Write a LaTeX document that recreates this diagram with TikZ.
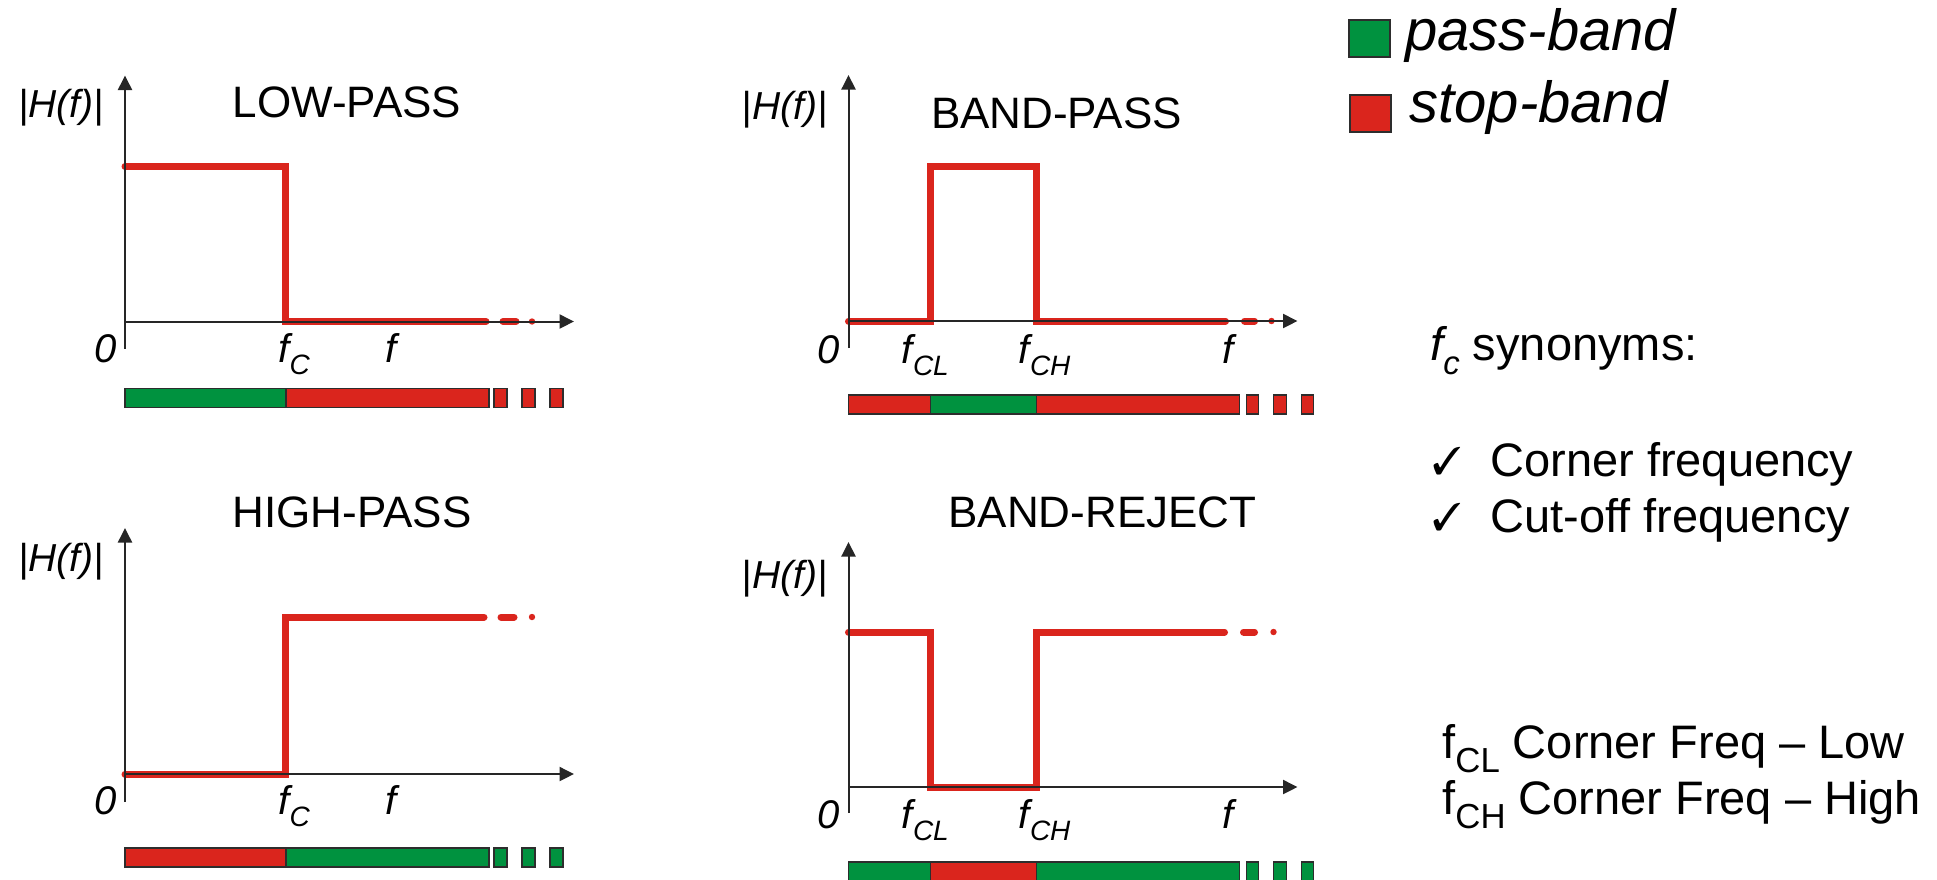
\documentclass[tikz,border=0pt]{standalone}
\usepackage{amssymb}
\usepackage{pifont}
\usepackage{fontspec}
\setmainfont{Liberation Sans}
\usetikzlibrary{arrows.meta,positioning}

\definecolor{stopred}{RGB}{218,37,29}
\definecolor{passgreen}{RGB}{0,146,63}
\definecolor{edgegray}{RGB}{45,45,45}

\newcommand{\lowsub}[2][.7]{\raisebox{-.3em}{\scalebox{#1}{#2}}}

\begin{document}
\begin{tikzpicture}[x=0.5pt,y=-0.5pt,>={Triangle[length=7.25pt,width=7pt]},
  axis/.style={draw=black!85,line width=1pt,->},
  resp/.style={draw=stopred,line width=3.5pt,line cap=round,line join=miter},
  pass/.style={fill=passgreen,draw=edgegray,line width=0.75pt},
  stop/.style={fill=stopred,draw=edgegray,line width=0.75pt},
  title/.style={font=\fontsize{22}{26}\selectfont,inner sep=0pt,anchor=base},
  mag/.style={font=\fontsize{19.5}{23}\selectfont\itshape,inner sep=0pt,anchor=base},
  tick/.style={font=\fontsize{20}{24}\selectfont\itshape,inner sep=0pt},
  note/.style={font=\fontsize{23.5}{28}\selectfont,inner sep=0pt,anchor=base west},
  key/.style={font=\fontsize{29}{34}\selectfont\itshape,inner sep=0pt,anchor=base west}]
\useasboundingbox (0,0) rectangle (1937,879);
%%
  % Panel: low-pass
\begin{scope}[shift={(125,321.5)}]
  \draw[resp] (0,-155) -- (160,-155) -- (160,0) -- (361,0);
  \draw[resp] (378,0) -- (391,0);
  \fill[stopred] (407,0) circle (1.6pt);
  \draw[axis] (0,27) -- (0,-246);
  \draw[axis] (0,0) -- (449,0);
  \node[tick,anchor=base east] (lp-zero) at (-8,41) {0};
  \node[tick,anchor=base west] (lp-fc) at (153,41) {f\lowsub{C}};
  \node[tick,anchor=base] (lp-f) at (266,41) {f};
  \node[mag] (lp-mag) at (-64,-204) {|H(f)|};
  \node[title] (lp-title) at (222,-204) {LOW-PASS};
  % band strip
  \draw[pass] (0,67) rectangle (161,86);
  \draw[stop] (161,67) rectangle (364,86);
  \draw[stop] (369,67) rectangle (382,86);
  \draw[stop] (397,67) rectangle (410,86);
  \draw[stop] (425,67) rectangle (438,86);
\end{scope}
  % Panel: band-pass
\begin{scope}[shift={(848.5,321)}]
  \draw[resp] (0,0) -- (82,0) -- (82,-155) -- (188,-155) -- (188,0) -- (377,0);
  \draw[resp] (396,0) -- (406,0);
  \fill[stopred] (423,0) circle (1.6pt);
  \draw[axis] (0,27) -- (0,-246);
  \draw[axis] (0,0) -- (449,0);
  \node[tick,anchor=base east] (bp-zero) at (-8,42) {0};
  \node[tick,anchor=base west] (bp-fcl) at (53,42) {f\lowsub{CL}};
  \node[tick,anchor=base west] (bp-fch) at (170,42) {f\lowsub{CH}};
  \node[tick,anchor=base] (bp-f) at (380,42) {f};
  \node[mag] (bp-mag) at (-64,-202) {|H(f)|};
  \node[title] (bp-title) at (208,-193) {BAND-PASS};
  % band strip
  \draw[stop] (0,74) rectangle (82,93);
  \draw[pass] (82,74) rectangle (188,93);
  \draw[stop] (188,74) rectangle (391,93);
  \draw[stop] (398,74) rectangle (410,93);
  \draw[stop] (425,74) rectangle (438,93);
  \draw[stop] (453,74) rectangle (465,93);
\end{scope}
  % Panel: high-pass
\begin{scope}[shift={(125,774)}]
  \draw[resp] (0,0) -- (160,0) -- (160,-157) -- (359,-157);
  \draw[resp] (376,-157) -- (389,-157);
  \fill[stopred] (407,-157) circle (1.6pt);
  \draw[axis] (0,28) -- (0,-246);
  \draw[axis] (0,0) -- (449,0);
  \node[tick,anchor=base east] (hp-zero) at (-8,40) {0};
  \node[tick,anchor=base west] (hp-fc) at (153,40) {f\lowsub{C}};
  \node[tick,anchor=base] (hp-f) at (266,40) {f};
  \node[mag] (hp-mag) at (-64,-203) {|H(f)|};
  \node[title] (hp-title) at (227,-247) {HIGH-PASS};
  % band strip
  \draw[stop] (0,74) rectangle (161,93);
  \draw[pass] (161,74) rectangle (364,93);
  \draw[pass] (369,74) rectangle (382,93);
  \draw[pass] (397,74) rectangle (410,93);
  \draw[pass] (425,74) rectangle (438,93);
\end{scope}
  % Panel: band-reject
\begin{scope}[shift={(848.5,787)}]
  \draw[resp] (0,-155) -- (82,-155) -- (82,0) -- (188,0) -- (188,-155) -- (376,-155);
  \draw[resp] (395,-155) -- (406,-155);
  \fill[stopred] (425,-155) circle (1.6pt);
  \draw[axis] (0,26) -- (0,-245);
  \draw[axis] (0,0) -- (449,0);
  \node[tick,anchor=base east] (br-zero) at (-8,41) {0};
  \node[tick,anchor=base west] (br-fcl) at (53,41) {f\lowsub{CL}};
  \node[tick,anchor=base west] (br-fch) at (170,41) {f\lowsub{CH}};
  \node[tick,anchor=base] (br-f) at (380,41) {f};
  \node[mag] (br-mag) at (-64,-199) {|H(f)|};
  \node[title] (br-title) at (254,-260) {BAND-REJECT};
  % band strip
  \draw[pass] (0,75) rectangle (82,94);
  \draw[stop] (82,75) rectangle (188,94);
  \draw[pass] (188,75) rectangle (391,94);
  \draw[pass] (398,75) rectangle (410,94);
  \draw[pass] (425,75) rectangle (438,94);
  \draw[pass] (453,75) rectangle (465,94);
\end{scope}
  % Legend
  \draw[pass,line width=1pt] (1349,20) rectangle (1390,57);
  \draw[stop,line width=1pt] (1350,95) rectangle (1391,132);
  \node[key] (key-pass) at (1405,50) {pass-band};
  \node[key] (key-stop) at (1409,122) {stop-band};
  % Notes
  \node[note] (syn) at (1430,360) {{\itshape f\lowsub{c}} synonyms:};
  \node[note] (tick-a) at (1432,474) {\scalebox{.82}{\ding{51}}};
  \node[note] (corner) at (1490,476) {Corner frequency};
  \node[note] (tick-b) at (1432,530) {\scalebox{.82}{\ding{51}}};
  \node[note] (cutoff) at (1490,532) {Cut-off frequency};
  \node[note] (fcl-note) at (1442,758) {f\lowsub[.74]{CL} Corner Freq – Low};
  \node[note] (fch-note) at (1442,814) {f\lowsub[.74]{CH} Corner Freq – High};
%
\end{tikzpicture}
\end{document}
